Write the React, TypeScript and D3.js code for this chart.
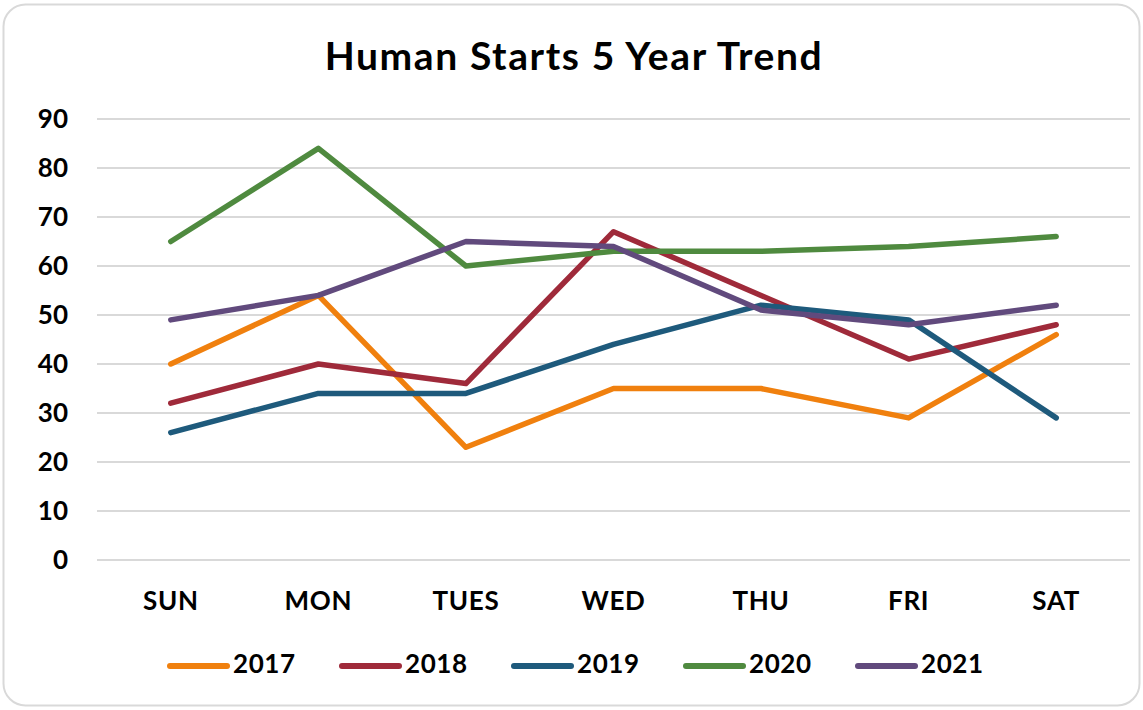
import React from "react";
import * as d3 from "d3";

const days = ["SUN", "MON", "TUES", "WED", "THU", "FRI", "SAT"];
const y2017 = [40, 54, 23, 35, 35, 29, 46];
const y2018 = [32, 40, 36, 67, 54, 41, 48];
const y2019 = [26, 34, 34, 44, 52, 49, 29];
const y2020 = [65, 84, 60, 63, 63, 64, 66];
const y2021 = [49, 54, 65, 64, 51, 48, 52];
const seriesNames = ["2017", "2018", "2019", "2020", "2021"];
const seriesColors = ["#F0800E", "#9F2A3A", "#1E5A7C", "#4F8A3F", "#614A7D"];
const yTicks = [0, 10, 20, 30, 40, 50, 60, 70, 80, 90];
const title = "Human Starts 5 Year Trend";

const W = 1143;
const H = 710;
const FONT = "Lato, 'Open Sans', sans-serif";

export default function App() {
  React.useEffect(() => {
    document.body.style.margin = "0";
  }, []);
  const allSeries = [y2017, y2018, y2019, y2020, y2021];
  const x = d3.scaleBand<string>().domain(days).range([97, 1130]);
  const y = d3.scaleLinear().domain([0, 90]).range([560, 119]);
  const line = d3
    .line<number>()
    .x((_, i) => (x(days[i]) as number) + x.bandwidth() / 2)
    .y((d) => y(d));

  const legendStart = 168;
  const legendStep = 172;

  return (
    <svg width={W} height={H} style={{ display: "block" }}>
      <rect x={0} y={0} width={W} height={H} fill="#fff" />
      <rect x={3.5} y={4.5} width={1136} height={701} rx={22} ry={22} fill="#fff" stroke="#d9d9d9" strokeWidth={2} />
      <text x={574} y={70} textAnchor="middle" fontFamily={FONT} fontWeight={700} fontSize={39} letterSpacing={1.6} fill="#000">
        {title}
      </text>
      {yTicks.map((t) => (
        <g key={t}>
          <line x1={97} x2={1130} y1={y(t)} y2={y(t)} stroke="#d9d9d9" strokeWidth={2} />
          <text x={68} y={y(t) + 9} textAnchor="end" fontFamily={FONT} fontWeight={700} fontSize={26} fill="#000">
            {t}
          </text>
        </g>
      ))}
      {days.map((d) => (
        <text
          key={d}
          x={(x(d) as number) + x.bandwidth() / 2}
          y={610}
          textAnchor="middle"
          fontFamily={FONT}
          fontWeight={700}
          fontSize={26}
          letterSpacing={0.7}
          fill="#000"
        >
          {d}
        </text>
      ))}
      {allSeries.map((s, i) => (
        <path
          key={seriesNames[i]}
          d={line(s) as string}
          fill="none"
          stroke={seriesColors[i]}
          strokeWidth={5.5}
          strokeLinejoin="round"
          strokeLinecap="round"
        />
      ))}
      {seriesNames.map((n, i) => {
        const lx = legendStart + i * legendStep;
        return (
          <g key={n}>
            <line x1={lx + 2} x2={lx + 59} y1={666} y2={666} stroke={seriesColors[i]} strokeWidth={6} strokeLinecap="round" />
            <text x={lx + 65} y={673} fontFamily={FONT} fontWeight={700} fontSize={26} letterSpacing={0.6} fill="#000">
              {n}
            </text>
          </g>
        );
      })}
    </svg>
  );
}
